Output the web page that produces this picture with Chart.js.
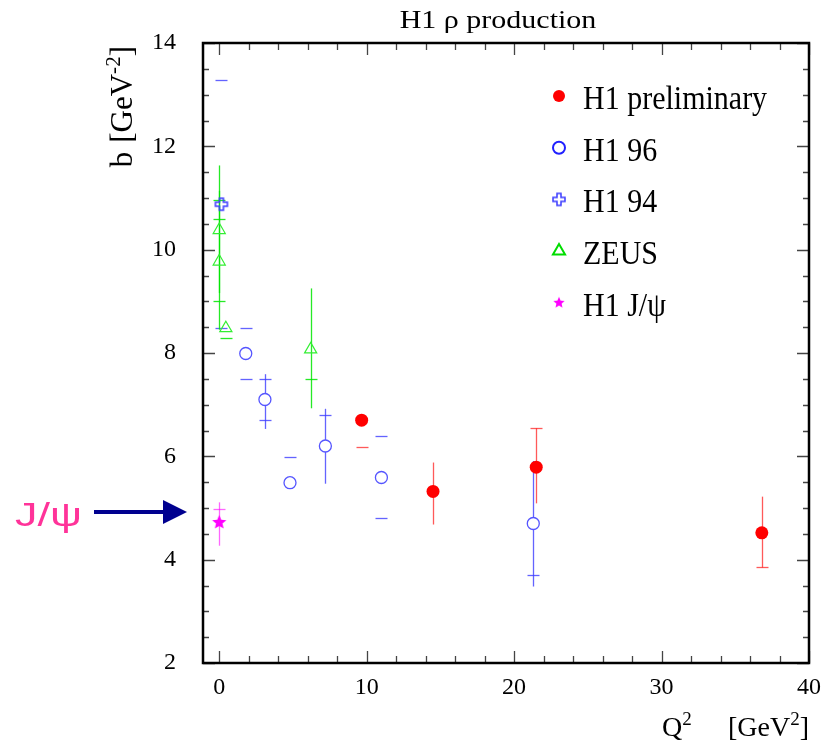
<!DOCTYPE html>
<html>
<head>
<meta charset="utf-8">
<title>H1 rho production</title>
<script src="https://cdn.jsdelivr.net/npm/chart.js@4.4.1/dist/chart.umd.min.js"></script>
<style>
  html, body { margin: 0; padding: 0; background: #fff; }
  canvas { display: block; }
</style>
</head>
<body>
<canvas id="bslope" width="831" height="752"></canvas>
<script>
// H1 preliminary
const prelimQ2 = [9.66, 14.5, 21.5, 36.8];
const prelimB = [6.70, 5.32, 5.79, 4.52];
const prelimLo = [null, 4.68, 5.09, 3.85];
const prelimHi = [null, 5.88, 6.54, 5.22];
const prelimCaps = [[6.18], [], [6.54], [3.85]];

// H1 96
const h196Q2 = [1.8, 3.1, 4.8, 7.2, 11.0, 21.3];
const h196B = [7.99, 7.10, 5.49, 6.20, 5.59, 4.70];
const h196Lo = [null, 6.53, null, 5.47, null, 3.48];
const h196Hi = [null, 7.59, null, 6.92, null, 5.91];
const h196Caps = [[8.49, 7.49], [7.49, 6.70], [5.99], [6.80], [6.39, 4.81], [3.70]];

// H1 94
const h194Q2 = [0.15];
const h194B = [10.88];
const h194Lo = [null];
const h194Hi = [null];
const h194Caps = [[13.28, 8.49]];

// ZEUS
const zeusQ2 = [0.0, 0.0, 0.45, 6.2];
const zeusB = [10.38, 9.77, 8.48, 8.07];
const zeusLo = [9.16, 8.45, null, 6.93];
const zeusHi = [11.63, 11.14, null, 9.25];
const zeusCaps = [[10.59], [10.97, 9.0], [8.29], [7.49]];

// H1 J/psi
const jpsiQ2 = [0.0];
const jpsiB = [4.72];
const jpsiLo = [4.27];
const jpsiHi = [5.11];
const jpsiCaps = [[4.98]];

const xTickVals = [0, 10, 20, 30, 40];
const yTickVals = [2, 4, 6, 8, 10, 12, 14];

const serif = "'Liberation Serif', 'Times New Roman', serif";

function pts(xs, ys, lo, hi, caps) {
  return xs.map((x, i) => ({ x: x, y: ys[i], lo: lo[i], hi: hi[i], caps: caps[i] }));
}

function makeCross(color, h, w) {
  const s = 2 * h + 4;
  const c = document.createElement('canvas');
  c.width = c.height = s;
  const g = c.getContext('2d');
  g.translate(s / 2, s / 2);
  g.strokeStyle = color;
  g.lineWidth = 1.5;
  g.beginPath();
  [[-w, -h], [w, -h], [w, -w], [h, -w], [h, w], [w, w], [w, h], [-w, h], [-w, w], [-h, w], [-h, -w], [-w, -w]]
    .forEach((p, i) => i ? g.lineTo(p[0], p[1]) : g.moveTo(p[0], p[1]));
  g.closePath();
  g.stroke();
  return c;
}

function makeStar(color, r) {
  const s = Math.ceil(2 * r + 2);
  const c = document.createElement('canvas');
  c.width = c.height = s;
  const g = c.getContext('2d');
  g.fillStyle = color;
  g.beginPath();
  for (let i = 0; i < 10; i++) {
    const a = -Math.PI / 2 + i * Math.PI / 5;
    const rr = i % 2 ? r * 0.45 : r;
    g.lineTo(s / 2 + rr * Math.cos(a), s / 2 + rr * Math.sin(a));
  }
  g.closePath();
  g.fill();
  return c;
}

const crossImg = makeCross('#3b3bff', 6, 2);
const starImg = makeStar('#ff00ff', 7.5);
const starSmall = makeStar('#ff00ff', 6);

// error bars: vertical line lo..hi plus short caps
const errorBars = {
  id: 'errorBars',
  beforeDatasetsDraw(chart) {
    const ctx = chart.ctx, xs = chart.scales.x, ys = chart.scales.y;
    ctx.save();
    chart.data.datasets.forEach(ds => {
      ctx.strokeStyle = ds.errColor;
      ctx.lineWidth = 1.3;
      ds.data.forEach(p => {
        const px = Math.round(xs.getPixelForValue(p.x)) + 0.5;
        if (p.lo != null) {
          ctx.beginPath();
          ctx.moveTo(px, ys.getPixelForValue(p.lo));
          ctx.lineTo(px, ys.getPixelForValue(p.hi));
          ctx.stroke();
        }
        (p.caps || []).forEach(v => {
          const py = Math.round(ys.getPixelForValue(v)) + 0.5;
          ctx.beginPath();
          ctx.moveTo(px - 6, py);
          ctx.lineTo(px + 6, py);
          ctx.stroke();
        });
      });
    });
    ctx.restore();
  }
};

// frame with inward ticks on all four sides
const frame = {
  id: 'frame',
  afterDatasetsDraw(chart) {
    const ctx = chart.ctx, a = chart.chartArea, xs = chart.scales.x, ys = chart.scales.y;
    ctx.save();
    ctx.strokeStyle = '#444';
    ctx.lineWidth = 1.3;
    ctx.beginPath();
    for (let v = 0; v <= 40; v += 2) {
      const px = Math.round(xs.getPixelForValue(v)) + 0.5;
      const len = v % 10 === 0 ? 12 : 7;
      ctx.moveTo(px, a.bottom); ctx.lineTo(px, a.bottom - len);
      ctx.moveTo(px, a.top); ctx.lineTo(px, a.top + len);
    }
    for (let v = 2; v <= 14; v += 0.5) {
      const py = Math.round(ys.getPixelForValue(v)) + 0.5;
      const len = v % 2 === 0 ? 12 : 6;
      ctx.moveTo(a.left, py); ctx.lineTo(a.left + len, py);
      ctx.moveTo(a.right, py); ctx.lineTo(a.right - len, py);
    }
    ctx.stroke();
    ctx.strokeStyle = '#000';
    ctx.lineWidth = 2.5;
    ctx.strokeRect(a.left, a.top, a.right - a.left, a.bottom - a.top);
    ctx.restore();
  }
};

function richWidth(ctx, parts, size) {
  let w = 0;
  parts.forEach(p => {
    if (p.gap) { w += p.gap; return; }
    ctx.font = (p.sup ? size * 0.68 : size) + 'px ' + serif;
    w += ctx.measureText(p.t).width;
  });
  return w;
}

function drawRich(ctx, parts, size, x, y) {
  let cx = x;
  parts.forEach(p => {
    if (p.gap) { cx += p.gap; return; }
    ctx.font = (p.sup ? size * 0.68 : size) + 'px ' + serif;
    ctx.fillText(p.t, cx, p.sup ? y - size * 0.4 : y);
    cx += ctx.measureText(p.t).width;
  });
}

function stretched(ctx, str, x, y, font, sx, sy) {
  ctx.save();
  ctx.translate(x, y);
  ctx.scale(sx, sy);
  ctx.font = font;
  ctx.fillText(str, 0, 0);
  ctx.restore();
}

const labels = {
  id: 'labels',
  afterDraw(chart) {
    const ctx = chart.ctx;
    ctx.save();
    ctx.fillStyle = '#000';
    ctx.textBaseline = 'alphabetic';

    // title
    ctx.textAlign = 'center';
    stretched(ctx, 'H1 \u03c1 production', 498, 28, '25px ' + serif, 1.2, 1.05);
    ctx.textAlign = 'left';

    // y axis title, rotated
    const yParts = [{ t: 'b' }, { gap: 9 }, { t: '[GeV' }, { t: '-2', sup: true }, { t: ']' }];
    const yw = richWidth(ctx, yParts, 31);
    ctx.save();
    ctx.translate(132, 46 + yw);
    ctx.rotate(-Math.PI / 2);
    drawRich(ctx, yParts, 31, 0, 0);
    ctx.restore();

    // x axis title: "Q2" on the left, "[GeV2]" ending at the frame edge
    drawRich(ctx, [{ t: 'Q' }, { t: '2', sup: true }], 28, 662, 736);
    const unit = [{ t: '[GeV' }, { t: '2', sup: true }, { t: ']' }];
    drawRich(ctx, unit, 28, 809 - richWidth(ctx, unit, 28), 736);

    // legend
    const H = Chart.helpers;
    const marks = [
      { st: { pointStyle: 'circle', radius: 6, borderWidth: 0 }, fill: '#ff0000', stroke: '#ff0000' },
      { st: { pointStyle: 'circle', radius: 6, borderWidth: 2 }, fill: '#fff', stroke: '#2020ff' },
      { st: { pointStyle: crossImg, radius: 6, borderWidth: 0 }, fill: '#fff', stroke: '#fff' },
      { st: { pointStyle: 'triangle', radius: 7, borderWidth: 2 }, fill: 'rgba(0,0,0,0)', stroke: '#00dd00' },
      { st: { pointStyle: starSmall, radius: 6, borderWidth: 0 }, fill: '#fff', stroke: '#fff' }
    ];
    chart.data.datasets.forEach((ds, i) => {
      const cy = 96 + i * 51.7;
      const m = marks[i];
      ctx.fillStyle = m.fill;
      ctx.strokeStyle = m.stroke;
      ctx.lineWidth = m.st.borderWidth;
      H.drawPoint(ctx, Object.assign({ rotation: 0 }, m.st), 559, cy);
      ctx.fillStyle = '#000';
      stretched(ctx, ds.label, 583, cy + 13, '30px ' + serif, 1, 1.12);
    });

    // J/psi marker on the left
    ctx.fillStyle = '#ff3399';
    stretched(ctx, 'J/\u03c8', 15, 526, "33px 'Liberation Sans', Arial, sans-serif", 1.36, 1);
    ctx.strokeStyle = '#00008f';
    ctx.fillStyle = '#00008f';
    ctx.lineWidth = 4;
    ctx.beginPath();
    ctx.moveTo(94, 512);
    ctx.lineTo(165, 512);
    ctx.stroke();
    ctx.beginPath();
    ctx.moveTo(163, 500);
    ctx.lineTo(187, 512);
    ctx.lineTo(163, 524);
    ctx.closePath();
    ctx.fill();
    ctx.restore();
  }
};

const tickFont = { family: serif, size: 24 };

new Chart(document.getElementById('bslope'), {
  type: 'scatter',
  data: {
    datasets: [
      {
        label: 'H1 preliminary',
        data: pts(prelimQ2, prelimB, prelimLo, prelimHi, prelimCaps),
        pointStyle: 'circle', pointRadius: 6.5,
        backgroundColor: '#ff0000', borderColor: '#ff0000', borderWidth: 0,
        errColor: 'rgba(255,0,0,0.65)'
      },
      {
        label: 'H1 96',
        data: pts(h196Q2, h196B, h196Lo, h196Hi, h196Caps),
        pointStyle: 'circle', pointRadius: 6,
        backgroundColor: '#fff', borderColor: '#5555ff', borderWidth: 1.3,
        errColor: 'rgba(60,60,255,0.8)'
      },
      {
        label: 'H1 94',
        data: pts(h194Q2, h194B, h194Lo, h194Hi, h194Caps),
        pointStyle: crossImg, pointRadius: 6,
        errColor: 'rgba(60,60,255,0.8)'
      },
      {
        label: 'ZEUS',
        data: pts(zeusQ2, zeusB, zeusLo, zeusHi, zeusCaps),
        pointStyle: 'triangle', pointRadius: 7,
        backgroundColor: 'rgba(0,0,0,0)', borderColor: '#33ee33', borderWidth: 1.2,
        errColor: 'rgba(0,230,0,0.85)'
      },
      {
        label: 'H1 J/\u03c8',
        data: pts(jpsiQ2, jpsiB, jpsiLo, jpsiHi, jpsiCaps),
        pointStyle: starImg, pointRadius: 7,
        errColor: 'rgba(255,0,255,0.6)'
      }
    ]
  },
  options: {
    responsive: false,
    animation: false,
    devicePixelRatio: 1,
    layout: { padding: { top: 43, right: 22, bottom: 0, left: 0 } },
    plugins: {
      legend: { display: false },
      title: { display: false },
      tooltip: { enabled: false }
    },
    scales: {
      x: {
        type: 'linear', min: -1.1, max: 40,
        afterBuildTicks: s => { s.ticks = xTickVals.map(v => ({ value: v })); },
        afterFit: s => { s.height = 89; },
        grid: { display: false, drawTicks: false },
        border: { display: false },
        ticks: { font: tickFont, color: '#000', padding: 10, maxRotation: 0, autoSkip: false }
      },
      y: {
        type: 'linear', min: 2, max: 14,
        afterBuildTicks: s => { s.ticks = yTickVals.map(v => ({ value: v })); },
        afterFit: s => { s.width = 203; },
        grid: { display: false, drawTicks: false },
        border: { display: false },
        ticks: { font: tickFont, color: '#000', padding: 27, autoSkip: false }
      }
    }
  },
  plugins: [errorBars, frame, labels]
});
</script>
</body>
</html>
